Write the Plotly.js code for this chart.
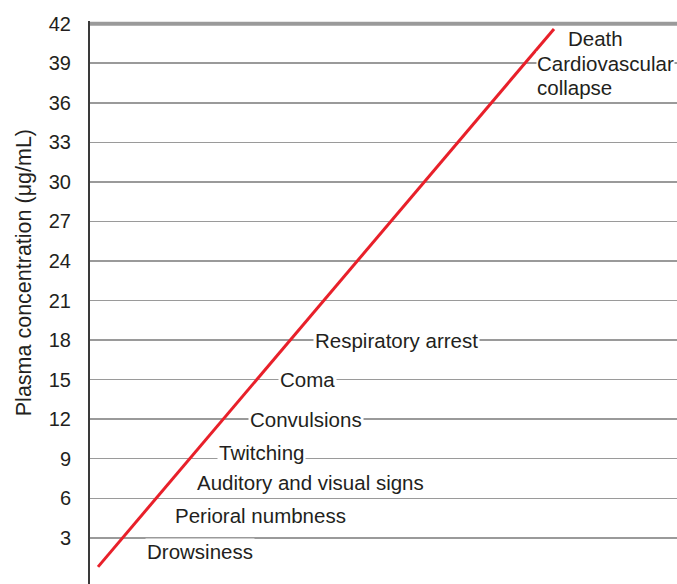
<!DOCTYPE html>
<html>
<head>
<meta charset="utf-8">
<script src="https://cdn.plot.ly/plotly-3.0.1.min.js"></script>
<style>html,body{margin:0;padding:0;background:#fff;}#chart{width:677px;height:584px;}</style>
</head>
<body>
<div id="chart"></div>
<script>
// Data
const lineX = [8, 464];            // arbitrary horizontal scale
const lineY = [0.8, 41.6];         // plasma concentration (µg/mL)
const tickVals = [3, 6, 9, 12, 15, 18, 21, 24, 27, 30, 33, 36, 39, 42];
const effectLabels = ["Death", "Cardiovascular", "collapse", "Respiratory arrest", "Coma", "Convulsions",
  "Twitching", "Auditory and visual signs", "Perioral numbness", "Drowsiness"];
const effectLevels = [40.9, 39, 37.15, 18, 15, 12, 9.45, 7.2, 4.7, 2.0];

// Layout positions of labels (pixels from left of plot area) and whether they mask gridlines
const labelX = [476, 446, 445, 223, 188, 158, 127, 105, 83, 55];
const labelMask = [false, true, false, true, true, true, true, true, true, true];
const labelPad = [1, 0, 1, 1, 1, 1, 1, 1, 1, 1];

const font = "Liberation Sans, Arial, Helvetica, sans-serif";
const txt = "#231f20";

const annotations = effectLabels.map((t, i) => ({
  x: labelX[i], y: effectLevels[i], xref: "x", yref: "y",
  text: t, showarrow: false, xanchor: "left", yanchor: "middle", align: "left",
  bgcolor: labelMask[i] ? "#ffffff" : "rgba(0,0,0,0)", borderpad: labelPad[i],
  font: {family: font, size: 20.5, color: txt}
}));
annotations.push({
  xref: "paper", yref: "paper", x: -66/587, y: 0.552,
  text: "Plasma concentration (μg/mL)", showarrow: false, textangle: -90,
  xanchor: "center", yanchor: "middle",
  font: {family: font, size: 21.5, color: txt}
});

const trace = {
  x: lineX, y: lineY, type: "scatter", mode: "lines",
  line: {color: "#e8202a", width: 3}, hoverinfo: "skip"
};

const layout = {
  width: 677, height: 584,
  margin: {l: 90, r: 0, t: 21, b: 0, pad: 0},
  paper_bgcolor: "#fff", plot_bgcolor: "#fff",
  showlegend: false,
  xaxis: {range: [0, 587], visible: false, fixedrange: true},
  yaxis: {
    range: [-0.5, 42.2], tickvals: tickVals, ticktext: tickVals.map(String),
    showgrid: true, gridcolor: "#9a9a9a", gridwidth: 1.5,
    zeroline: false, showline: true, linecolor: "#3a3a3a", linewidth: 2,
    ticks: "", ticklabelstandoff: 13,
    tickfont: {family: font, size: 20, color: txt}
  },
  shapes: [{
    type: "line", xref: "paper", yref: "y", x0: 0, x1: 1, y0: 42, y1: 42,
    line: {color: "#9a9a9a", width: 4}, layer: "below"
  }],
  annotations: annotations
};

Plotly.newPlot("chart", [trace], layout, {displayModeBar: false, staticPlot: true});
</script>
</body>
</html>
